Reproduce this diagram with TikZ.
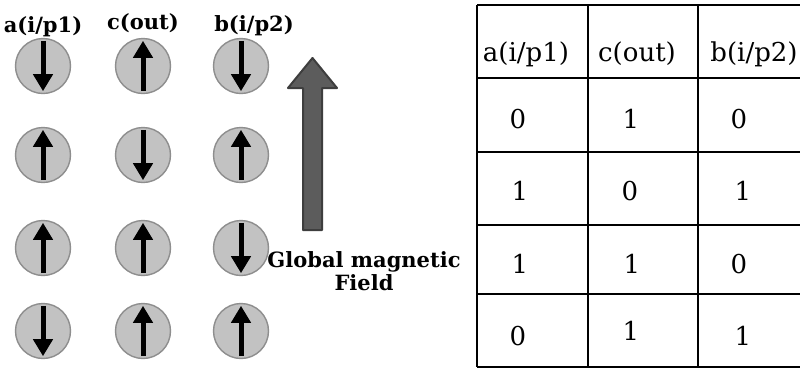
\documentclass[tikz,border=0pt]{standalone}
\usepackage{fontspec}
\setmainfont{DejaVu Serif}
\usetikzlibrary{arrows.meta}
\definecolor{spinfill}{HTML}{C2C2C2}
\definecolor{spinedge}{HTML}{8E8E8E}
\definecolor{fieldfill}{HTML}{5C5C5C}
\definecolor{fieldedge}{HTML}{3E3E3E}
\tikzset{
  spin/.style={circle, draw=spinedge, fill=spinfill, line width=1.4pt,
               minimum size=55pt, inner sep=0pt},
  moment/.style={-{Triangle[length=17pt,width=19pt]}, line width=5pt,
                 shorten <=3pt, shorten >=3pt},
  lbl/.style={font=\bfseries\fontsize{21}{23}\selectfont, inner sep=0pt},
  cell/.style={font=\fontsize{26}{26}\selectfont, inner sep=0pt, anchor=base},
  grid/.style={line width=2pt, black},
  fieldarr/.style={fill=fieldfill, draw=fieldedge, line width=2pt, line join=round},
}
\begin{document}
\begin{tikzpicture}[x=1pt, y=-1pt]

  \useasboundingbox[fill=white] (0,0) rectangle (800,368);

  % column labels
  \node[lbl, anchor=base] (la) at (43,32) {a(i/p1)};
  \node[lbl, anchor=base] (lc) at (143,29) {c(out)};
  \node[lbl, anchor=base] (lb) at (254,31) {b(i/p2)};

  % spins
  \node[spin] (a1) at (43,66) {};
  \node[spin] (c1) at (143,66) {};
  \node[spin] (b1) at (241,66) {};
  \node[spin] (a2) at (43,155) {};
  \node[spin] (c2) at (143,155) {};
  \node[spin] (b2) at (241,155) {};
  \node[spin] (a3) at (43,248) {};
  \node[spin] (c3) at (143,248) {};
  \node[spin] (b3) at (241,248) {};
  \node[spin] (a4) at (43,331) {};
  \node[spin] (c4) at (143,331) {};
  \node[spin] (b4) at (241,331) {};

  \draw[moment] (a1.north) -- (a1.south);
  \draw[moment] (c1.south) -- (c1.north);
  \draw[moment] (b1.north) -- (b1.south);
  \draw[moment] (a2.south) -- (a2.north);
  \draw[moment] (c2.north) -- (c2.south);
  \draw[moment] (b2.south) -- (b2.north);
  \draw[moment] (a3.south) -- (a3.north);
  \draw[moment] (c3.south) -- (c3.north);
  \draw[moment] (b3.north) -- (b3.south);
  \draw[moment] (a4.north) -- (a4.south);
  \draw[moment] (c4.south) -- (c4.north);
  \draw[moment] (b4.south) -- (b4.north);

  % global field
  \draw[fieldarr] (303,230) -- (303,88) -- (288,88) -- (312.5,58)
    -- (337,88) -- (322,88) -- (322,230) -- cycle;
  \node[lbl, align=center] (field) at (364,271) {Global magnetic\\Field};

  % truth table
  \foreach \y in {5,78,152,225,294,367}
    \draw[grid] (477,\y) -- (801,\y);
  \foreach \x in {477,588,698}
    \draw[grid] (\x,5) -- (\x,367);

  \node[cell] (ha) at (526,61) {a(i/p1)};
  \node[cell] (hc) at (637,61) {c(out)};
  \node[cell] (hb) at (754,61) {b(i/p2)};

  \node[cell] (a1v) at (518,128) {0};
  \node[cell] (c1v) at (631,128) {1};
  \node[cell] (b1v) at (739,128) {0};
  \node[cell] (a2v) at (520,200) {1};
  \node[cell] (c2v) at (630,200) {0};
  \node[cell] (b2v) at (743,200) {1};
  \node[cell] (a3v) at (520,273) {1};
  \node[cell] (c3v) at (632,273) {1};
  \node[cell] (b3v) at (739,273) {0};
  \node[cell] (a4v) at (518,345) {0};
  \node[cell] (c4v) at (631,340) {1};
  \node[cell] (b4v) at (743,345) {1};

\end{tikzpicture}
\end{document}
